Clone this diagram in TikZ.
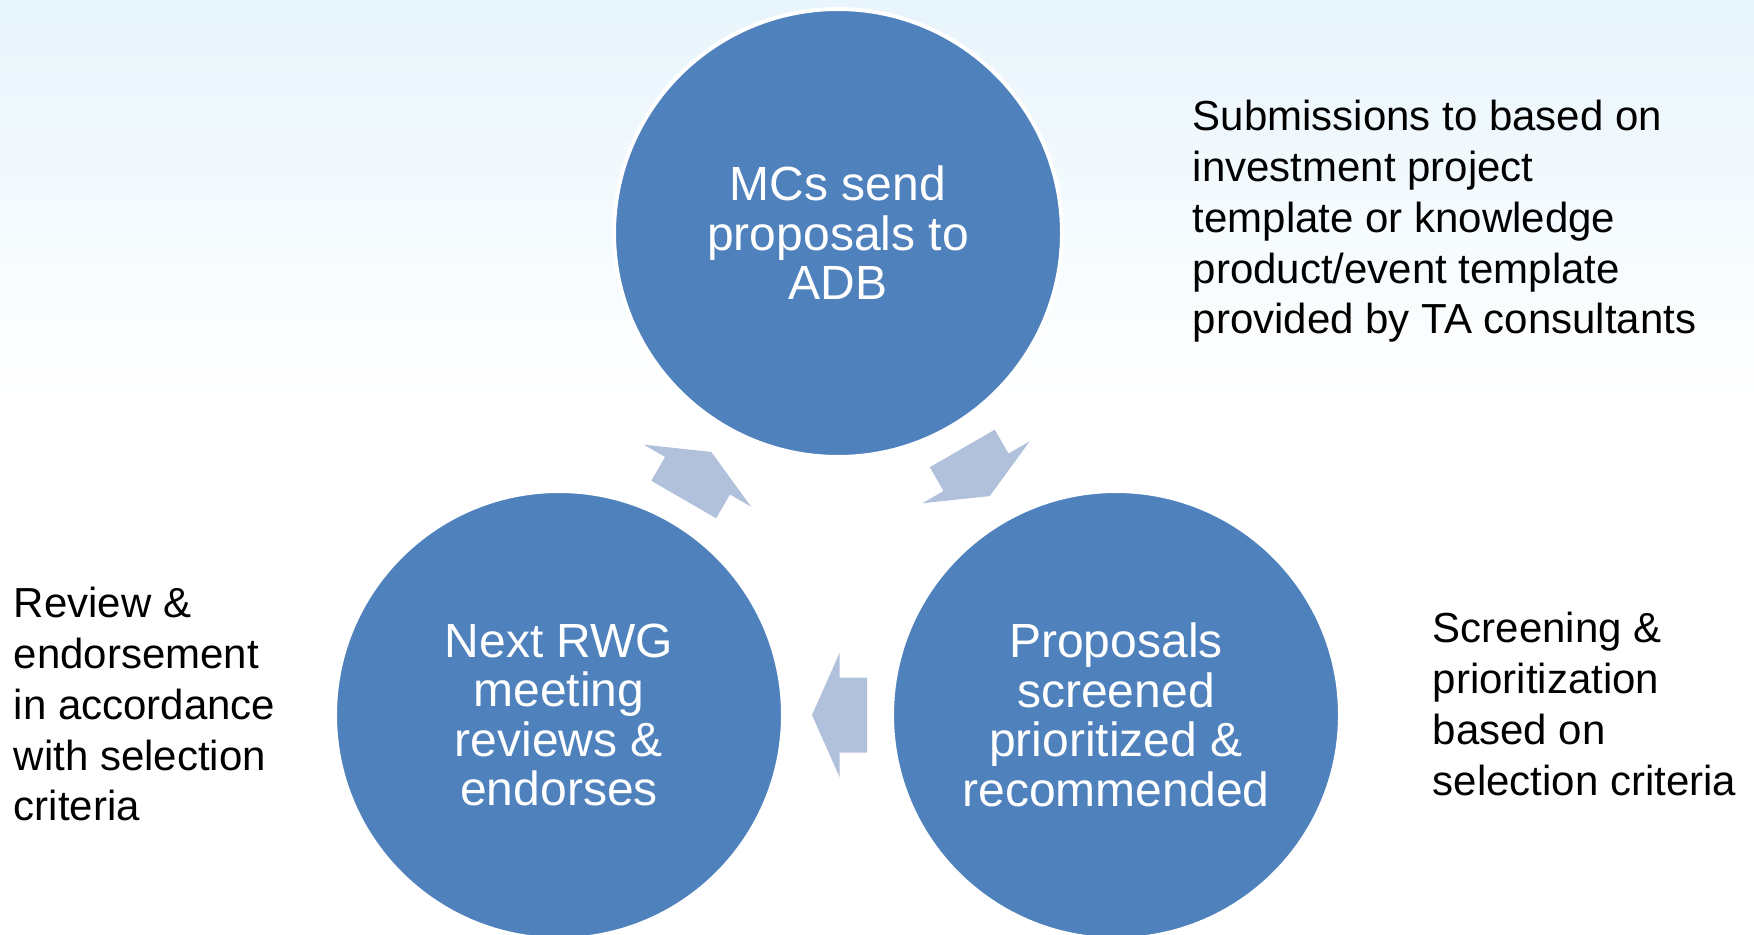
\documentclass[tikz,border=0pt]{standalone}
\usepackage{fontspec}
\setmainfont{Liberation Sans}
\usepackage{tikz}
\usetikzlibrary{calc}

\definecolor{stageblue}{HTML}{4F81BD}
\definecolor{arrowblue}{HTML}{B2C1DB}
\definecolor{bgtop}{HTML}{E8F5FC}

\tikzset{
  stage/.style={circle, fill=stageblue, draw=white, line width=0.4mm, minimum size=44.8mm, inner sep=0pt,
    text=white, align=center, font=\fontsize{13.66}{14.1}\selectfont},
  note/.style={anchor=north west, inner sep=0pt, align=left, font=\fontsize{11.95}{14.5}\selectfont}
}

\newcommand{\cyclearrow}[2]{%
  \fill[arrowblue] let \p1=($(#2)-(#1)$), \n1={atan2(\y1,\x1)} in
    [shift={($(#1)!0.5!(#2)$)}, rotate=\n1]
    (-29.5,-37.5) -- (-2,-37.5) -- (-2,-62) -- (25.5,0) -- (-2,62) -- (-2,37.5) -- (-29.5,37.5) -- cycle;}

\begin{document}
\begin{tikzpicture}[x=0.1mm, y=-0.1mm]
        \useasboundingbox (0,0) rectangle (1754,935);
        \fill[white] (0,0) rectangle (1754,935);
        \shade[top color=bgtop, bottom color=white] (0,0) rectangle (1754,400);

        \node[stage] (send) at (838,233) {MCs send\\proposals to\\ADB};
        \node[stage] (screen) at (1116,715) {Proposals\\screened\\prioritized \&\\recommended};
        \node[stage] (endorse) at (559,715) {Next RWG\\meeting\\reviews \&\\endorses};

        \cyclearrow{send}{screen}
        \cyclearrow{screen}{endorse}
        \cyclearrow{endorse}{send}

        \node[note] (sendnote) at (1192,99) {Submissions to based on\\investment project\\template or knowledge\\product/event template\\provided by TA consultants};
        \node[note] (screennote) at (1432,611) {Screening \&\\prioritization\\based on\\selection criteria};
        \node[note] (endorsenote) at (13,586) {Review \&\\endorsement\\in accordance\\with selection\\criteria};
    \end{tikzpicture}
\end{document}
